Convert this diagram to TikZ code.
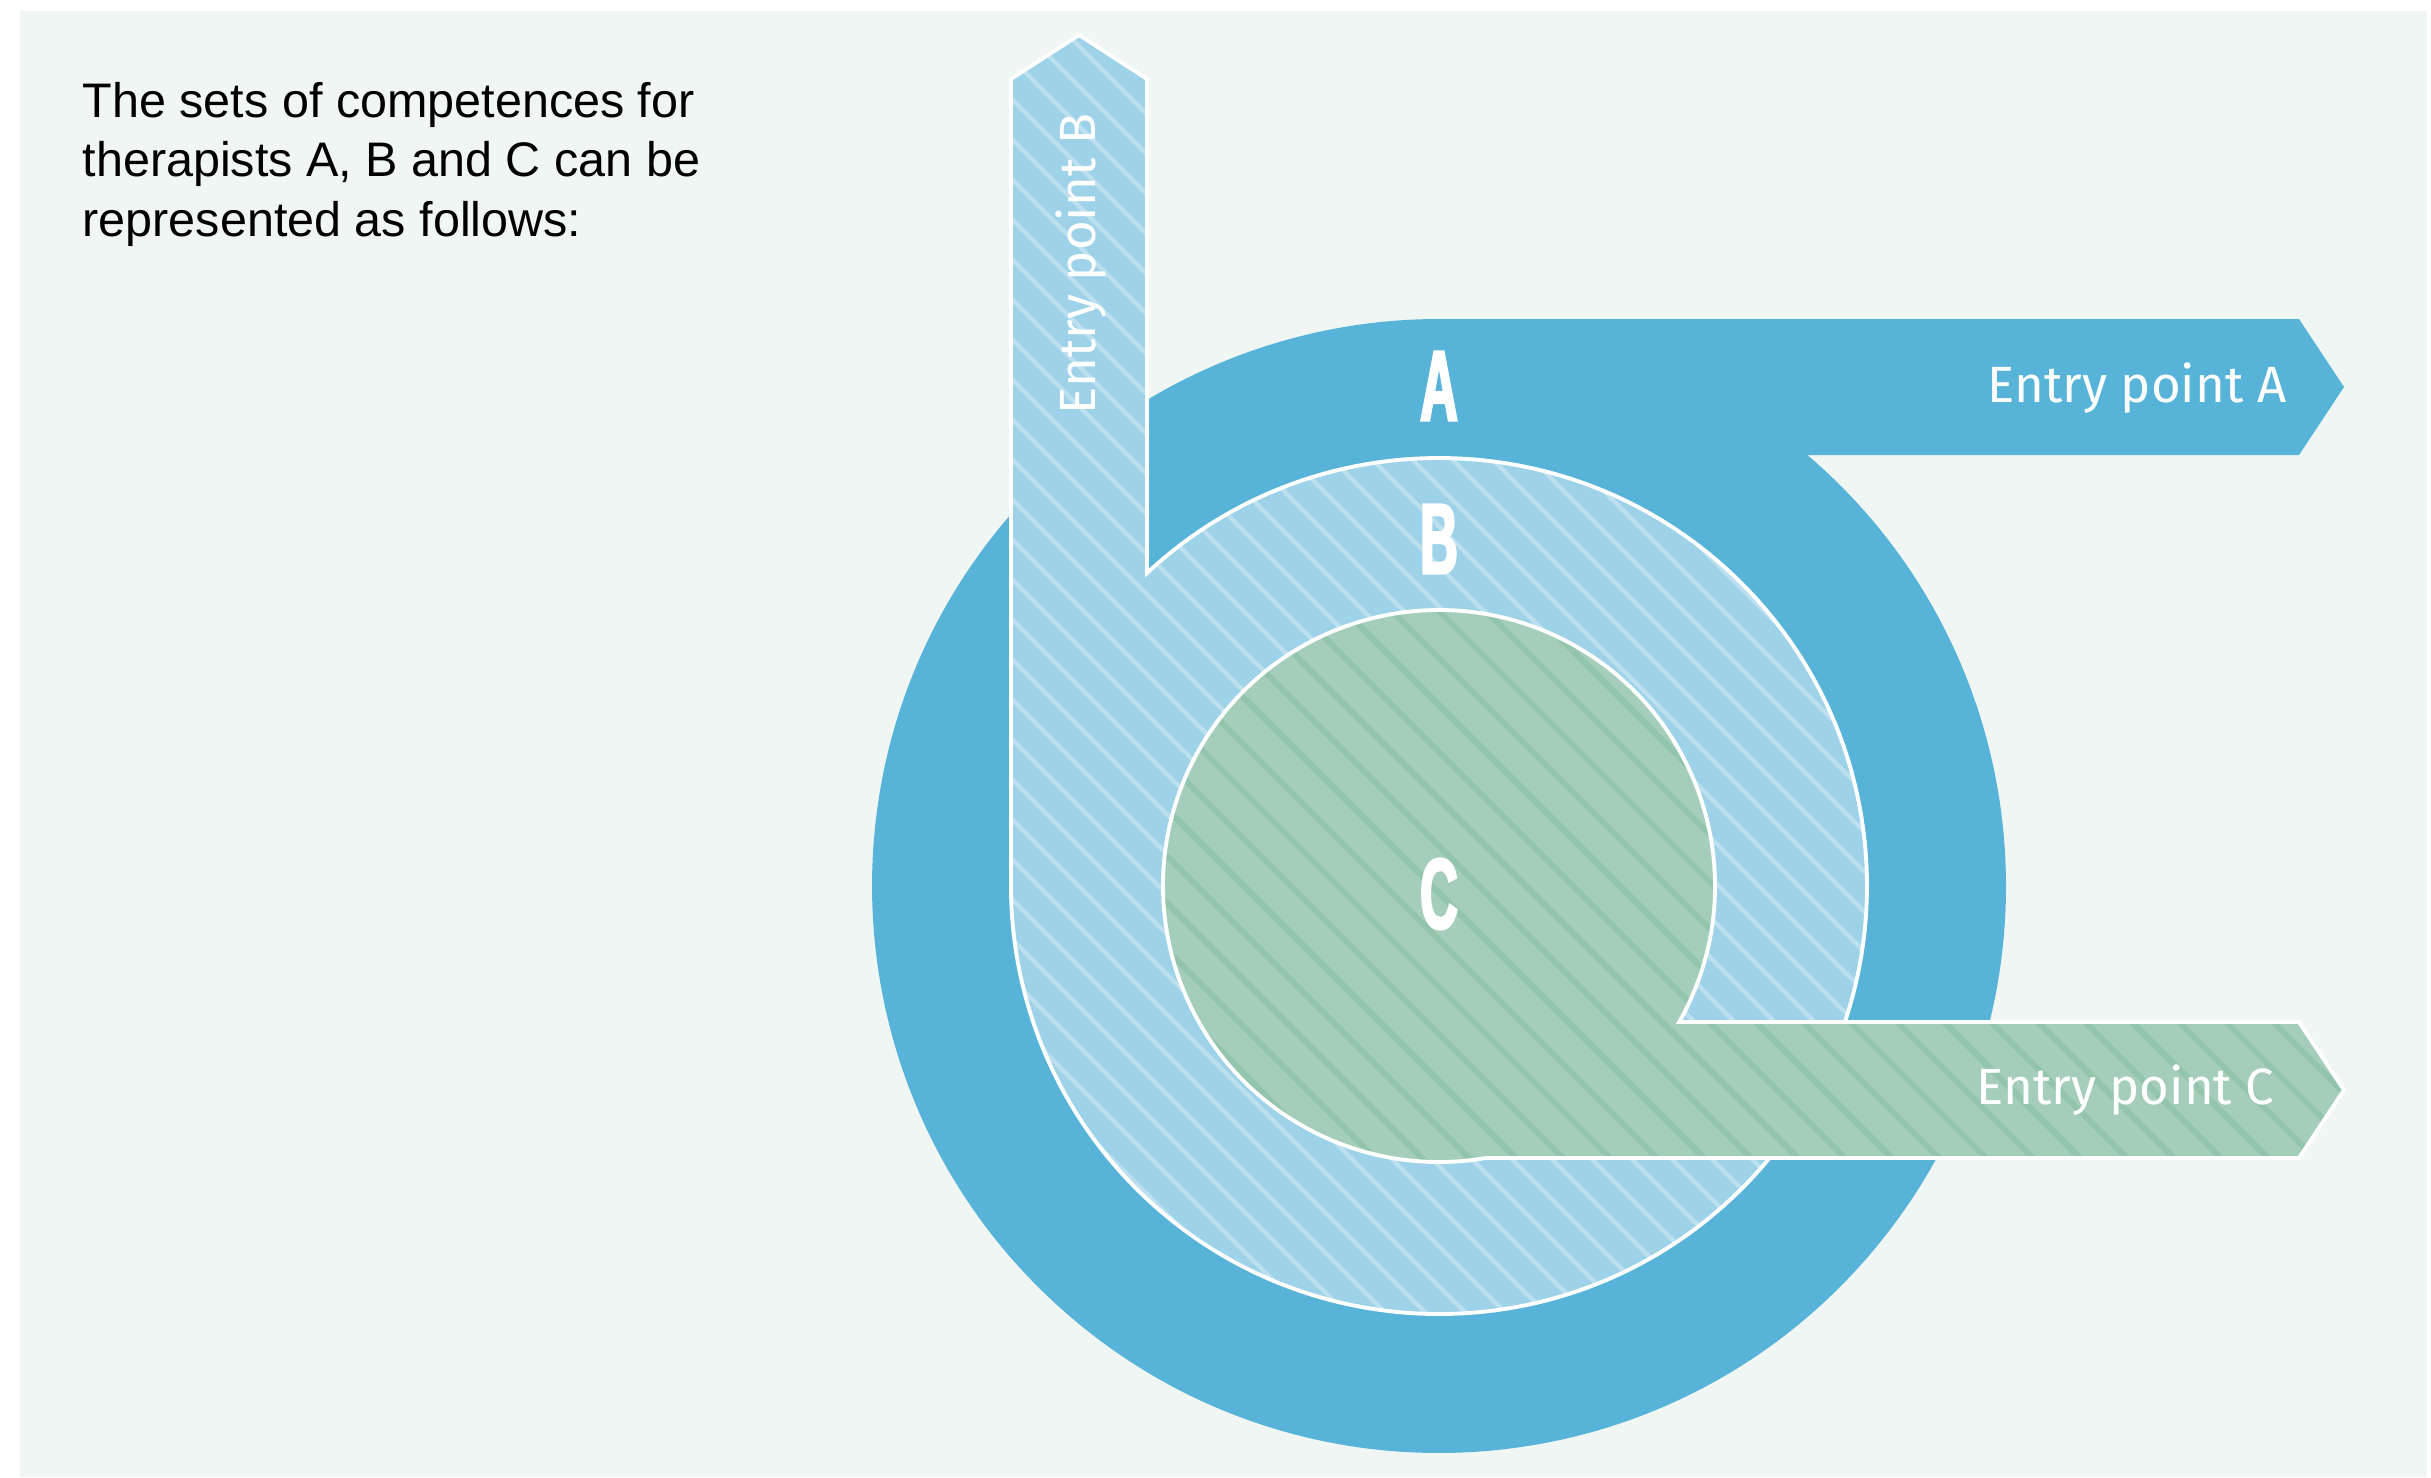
\documentclass[tikz,border=0pt]{standalone}
\usepackage{fontspec}
\usepackage{xcolor}
\usepackage{tikz}
\setmainfont{Liberation Sans}
\newfontfamily\entryfont{Fira Sans}
\newfontfamily\letterfont{Liberation Sans}[FakeStretch=0.52,FakeBold=2.4]

\definecolor{panel}{HTML}{F0F6F4}
\definecolor{setA}{HTML}{57B4D8}
\definecolor{setB}{HTML}{9DD2E9}
\definecolor{setC}{HTML}{A5CEBA}
\definecolor{stripeCcol}{HTML}{93C4AC}

% outlines of the three sets (circle + entry arrow)
\newcommand{\setAoutline}{(0,5.67) -- (8.60,5.67) -- (9.05,4.99) -- (8.60,4.31) -- (3.684,4.31)
  arc[start angle=49.48, end angle=-270, radius=5.67] -- cycle}
\newcommand{\setBoutline}{(-4.28,0) -- (-4.28,8.07) -- (-3.60,8.51) -- (-2.92,8.07) -- (-2.92,3.129)
  arc[start angle=133.02, end angle=-180, radius=4.28] -- cycle}
\newcommand{\setCoutline}{(2.4017,-1.36)
  arc[start angle=-29.52, end angle=279.76, radius=2.76] -- (8.60,-2.72) -- (9.05,-2.04) -- (8.60,-1.36) -- cycle}

\tikzset{
  setletter/.style={font=\letterfont\bfseries\fontsize{28.5}{30}\selectfont, text=white, inner sep=0pt},
  entrylabel/.style={font=\entryfont\fontsize{14.5}{16}\selectfont, text=white, inner sep=0pt},
  setedge/.style={draw=white, line width=1.1pt},
  stripeB/.style={white, opacity=0.33, line width=1.2pt},
  stripeC/.style={stripeCcol, line width=1.7pt},
}

\begin{document}
\begin{tikzpicture}
    \useasboundingbox (-14.39,-5.91) rectangle (9.92,8.86);
    \fill[white] (-14.39,-5.91) rectangle (9.92,8.86);
    \fill[panel] (-14.19,-5.91) rectangle (9.88,8.75);

    % Intro text (base anchor sits on the last line)
    \node[anchor=base west, align=left, inner sep=0pt, font=\fontsize{13.8}{16.8}\selectfont] (intro) at (-13.57,6.50)
        {The sets of competences for\\therapists A, B and C can be\\represented as follows:};

    % Set A
    \fill[setA] \setAoutline;

    % Set B
    \fill[setB] \setBoutline;
    \begin{scope}
        \clip \setBoutline;
        \foreach \k in {-9.2,-8.8,...,6.8}
            \draw[stripeB] (\k-10,10) -- (\k+10,-10);
    \end{scope}
    \draw[setedge] \setBoutline;

    % Set C
    \fill[setC] \setCoutline;
    \begin{scope}
        \clip \setCoutline;
        \foreach \k in {-4.3,-3.83,...,8.3}
            \draw[stripeC] (\k-10,10) -- (\k+10,-10);
    \end{scope}
    \draw[setedge] \setCoutline;

    % Letters
    \node[setletter] (letterA) at (0,5.00) {A};
    \node[setletter] (letterB) at (0,3.47) {B};
    \node[setletter] (letterC) at (0,-0.08) {C};

    % Entry points
    \node[entrylabel, anchor=base east] (entryA) at (8.48,4.84) {Entry point A};
    \node[entrylabel, rotate=90, anchor=base west] (entryB) at (-3.44,4.71) {Entry point B};
    \node[entrylabel, anchor=base east] (entryC) at (8.36,-2.18) {Entry point C};
\end{tikzpicture}
\end{document}
